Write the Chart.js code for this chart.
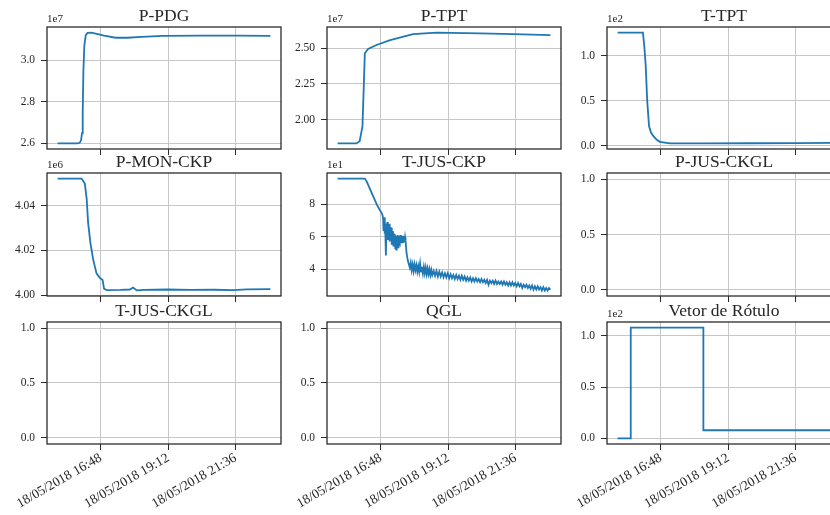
<!DOCTYPE html>
<html>
<head>
<meta charset="utf-8">
<script src="https://cdn.jsdelivr.net/npm/chart.js@4.4.1/dist/chart.umd.min.js"></script>
<style>
html, body { margin: 0; padding: 0; background: #fff; width: 830px; height: 515px; overflow: hidden; }
canvas { position: absolute; }
</style>
</head>
<body>
<script>
// time axis in minutes after midnight, 18/05/2018
const xTicks = [1008, 1152, 1296]

const ppdgTime = [916, 958, 963, 966, 968, 969.5, 971, 973, 976, 980, 987, 995, 1015, 1040, 1065, 1095, 1140, 1220, 1300, 1370]
const ppdgValues = [2.600e7, 2.600e7, 2.603e7, 2.615e7, 2.65e7, 2.75e7, 2.95e7, 3.07e7, 3.12e7, 3.13e7, 3.132e7, 3.128e7, 3.117e7, 3.107e7, 3.107e7, 3.111e7, 3.116e7, 3.117e7, 3.117e7, 3.116e7]
const ppdgTicks = [2.6e7, 2.8e7, 3.0e7]

const tptTime = [916, 956, 963, 969, 972, 974, 981, 999, 1028, 1077, 1127, 1220, 1291, 1370]
const tptValues = [1.833e7, 1.833e7, 1.849e7, 1.953e7, 2.255e7, 2.465e7, 2.495e7, 2.523e7, 2.557e7, 2.599e7, 2.610e7, 2.604e7, 2.599e7, 2.592e7]
const tptTicks = [2.0e7, 2.25e7, 2.5e7]

const ttptTime = [916, 970, 973, 976, 979, 983, 987, 992, 999, 1006, 1028, 1100, 1200, 1300, 1370]
const ttptValues = [125.7, 125.7, 110, 88, 51, 22, 15, 11, 7, 4.4, 2.6, 2.6, 2.8, 3.0, 3.2]
const ttptTicks = [0, 50, 100]

const pmonTime = [916, 967, 974, 978, 981, 986, 992, 999, 1006, 1012, 1015, 1021, 1050, 1070, 1077, 1085, 1100, 1150, 1200, 1250, 1290, 1320, 1370]
const pmonValues = [4.052e6, 4.052e6, 4.0498e6, 4.0430e6, 4.0324e6, 4.0233e6, 4.0158e6, 4.0098e6, 4.0078e6, 4.0068e6, 4.0030e6, 4.0023e6, 4.0024e6, 4.0026e6, 4.0035e6, 4.0022e6, 4.0024e6, 4.0026e6, 4.0024e6, 4.0025e6, 4.0023e6, 4.0027e6, 4.0028e6]
const pmonTicks = [4.00e6, 4.02e6, 4.04e6]

const tjusTime = [916, 974, 978, 990, 1000, 1006, 1010, 1012,
    1013, 1014, 1015, 1016, 1017, 1018, 1019, 1020, 1021, 1022, 1023, 1024, 1025, 1026, 1027, 1028,
    1029, 1030, 1031, 1032, 1033, 1034, 1035, 1036, 1037, 1038, 1039, 1040, 1041, 1042, 1043, 1044,
    1045, 1046, 1047, 1048, 1049, 1050, 1051, 1052, 1053, 1054, 1055, 1056, 1057, 1058, 1059, 1060,
    1061, 1063, 1066, 1068, 1070, 1072, 1074, 1076, 1078, 1080, 1082, 1084,
    1086, 1088, 1090, 1092, 1094, 1096, 1098, 1100, 1102, 1104, 1106, 1108, 1110, 1112, 1114, 1116,
    1118, 1121, 1124, 1127, 1130, 1133, 1136, 1139, 1142, 1145, 1148, 1151, 1154, 1157, 1160, 1163,
    1166, 1169, 1172, 1175, 1178, 1181, 1184, 1187, 1190, 1193, 1196, 1199, 1202, 1205, 1208, 1211,
    1214, 1217, 1220, 1223, 1226, 1229, 1232, 1235, 1238, 1241, 1244, 1247, 1250, 1253, 1256, 1259,
    1262, 1265, 1268, 1271, 1274, 1277, 1280, 1283, 1286, 1289, 1292, 1295, 1298, 1301, 1304, 1307,
    1310, 1313, 1316, 1319, 1322, 1325, 1328, 1331, 1334, 1337, 1340, 1343, 1346, 1349, 1352, 1355,
    1358, 1361, 1364, 1367, 1370]
const tjusValues = [95.7, 95.7, 94.0, 86.0, 79.5, 76.3, 74.5, 73.0,
    71.0, 63.5, 72.0, 62.0, 70.0, 60.5, 48.5, 68.0, 59.0, 69.0, 58.0, 67.0, 59.5, 68.0, 57.0, 66.0,
    58.5, 65.5, 55.0, 64.0, 56.5, 63.5, 54.5, 62.0, 55.5, 61.5, 53.0, 60.5, 52.0, 60.0, 54.0, 61.0,
    53.5, 60.5, 55.5, 60.0, 55.0, 61.0, 56.0, 60.0, 56.5, 60.5, 56.0, 59.5, 57.0, 60.5, 56.5, 59.5,
    57.5, 50.0, 45.0, 43.0, 41.0, 44.0, 39.5, 43.0, 39.0, 43.0, 39.5, 42.5,
    38.5, 42.0, 38.5, 43.5, 38.5, 41.5, 37.5, 41.5, 37.5, 41.0, 37.0, 40.5, 37.0, 40.0, 36.5, 39.5,
    36.5, 39.0, 36.0, 39.0, 35.5, 38.5, 35.5, 38.0, 35.0, 37.5, 35.0, 37.5, 34.5, 37.0, 34.5, 36.5,
    34.0, 36.5, 34.0, 36.0, 33.5, 36.0, 33.5, 35.5, 33.0, 35.0, 33.0, 35.0, 32.5, 34.5, 32.5, 34.5,
    32.5, 34.0, 32.0, 34.0, 32.0, 33.5, 31.5, 33.5, 30.5, 33.0, 31.5, 33.0, 31.0, 33.0, 31.0, 32.5,
    31.0, 32.5, 30.5, 32.5, 30.5, 32.0, 30.0, 32.0, 30.0, 32.0, 30.0, 31.5, 29.5, 31.5, 29.5, 31.0,
    28.5, 30.5, 29.0, 30.5, 28.5, 30.0, 28.0, 30.0, 27.5, 29.5, 27.5, 29.5, 27.5, 29.0, 27.0, 29.0,
    27.0, 28.5, 27.0, 28.5, 27.5]
const tjusTicks = [40, 60, 80]

const vetorTime = [916, 944, 944, 1099, 1099, 1370]
const vetorValues = [0, 0, 108, 108, 8, 8]
const vetorTicks = [0, 50, 100]

const emptyTicks = [0, 0.5, 1.0]

const FONT = '"Liberation Serif", "DejaVu Serif", serif'
const TXT = '#262626'
const BLUE = '#1f77b4'
const GRID = '#c6c6c6'

const colLeft = [47, 327, 607]
const rowTop = [27, 173, 322]
const rowH = [122, 123, 122]
const plotW = 234
const yW = 46

// 5% margins like matplotlib
function padRange(arr) {
    const lo = Math.min(...arr), hi = Math.max(...arr)
    const m = (hi - lo) * 0.05
    return [lo - m, hi + m]
}
const xRange = padRange(ppdgTime)

function hhmm(m) {
    const h = Math.floor(m / 60), mm = m % 60
    return '18/05/2018 ' + h + ':' + String(mm).padStart(2, '0')
}

const framePlugin = {
    id: 'frame',
    afterDraw(chart, args, opts) {
        const {ctx, chartArea: a} = chart
        ctx.save()
        ctx.strokeStyle = '#2b2b2b'
        ctx.lineWidth = 1.3
        ctx.strokeRect(a.left, a.top, a.right - a.left, a.bottom - a.top)
        if (opts.offset) {
            ctx.fillStyle = TXT
            ctx.font = '11px ' + FONT
            ctx.textAlign = 'left'
            ctx.textBaseline = 'bottom'
            ctx.fillText(opts.offset, a.left, a.top - 2)
        }
        ctx.restore()
    }
}

function makePlot(row, col, title, times, values, yTicks, exp, dec) {
    const cv = document.createElement('canvas')
    const bottomH = row === 2 ? 75 : 8
    const w = yW + plotW + 4
    const h = 24 + rowH[row] + bottomH
    cv.width = w
    cv.height = h
    cv.style.left = (colLeft[col] - yW) + 'px'
    cv.style.top = (rowTop[row] - 24) + 'px'
    document.body.appendChild(cv)

    const yRange = values ? padRange(values) : [-0.055, 1.055]
    const datasets = values ? [{
        data: times.map((t, i) => ({x: t, y: values[i]})),
        borderColor: BLUE,
        borderWidth: 1.8,
        pointRadius: 0,
        tension: 0,
        fill: false,
    }] : []

    new Chart(cv, {
        type: 'line',
        data: {datasets},
        plugins: [framePlugin],
        options: {
            responsive: false,
            animation: false,
            layout: {padding: {left: 0, top: 0, right: 4, bottom: 0}},
            plugins: {
                legend: {display: false},
                tooltip: {enabled: false},
                title: {
                    display: true,
                    text: title,
                    fullSize: false,
                    color: TXT,
                    font: {family: FONT, size: 17.5, weight: 'normal', lineHeight: '16px'},
                    padding: {top: 5, bottom: 3},
                },
                frame: {offset: exp ? '1e' + exp : null},
            },
            scales: {
                x: {
                    type: 'linear',
                    min: xRange[0],
                    max: xRange[1],
                    afterBuildTicks: s => { s.ticks = xTicks.map(v => ({value: v})) },
                    afterFit: s => { s.height = bottomH; s.paddingLeft = 0; s.paddingRight = 0 },
                    border: {display: false},
                    grid: {color: GRID, lineWidth: 1, tickColor: '#2b2b2b', tickLength: 6},
                    ticks: {
                        display: row === 2,
                        autoSkip: false,
                        maxRotation: 30,
                        minRotation: 30,
                        padding: 0,
                        color: TXT,
                        font: {family: FONT, size: 13.5},
                        callback: v => hhmm(v),
                    },
                },
                y: {
                    type: 'linear',
                    min: yRange[0],
                    max: yRange[1],
                    afterBuildTicks: s => { s.ticks = yTicks.map(v => ({value: v})) },
                    afterFit: s => { s.width = yW; s.paddingTop = 0; s.paddingBottom = 0 },
                    border: {display: false},
                    grid: {color: GRID, lineWidth: 1, tickColor: '#2b2b2b', tickLength: 6},
                    ticks: {
                        padding: 6,
                        color: TXT,
                        font: {family: FONT, size: 11.5},
                        callback: v => (v / Math.pow(10, exp || 0)).toFixed(dec),
                    },
                },
            },
        },
    })
}

makePlot(0, 0, 'P-PDG', ppdgTime, ppdgValues, ppdgTicks, 7, 1)
makePlot(0, 1, 'P-TPT', tptTime, tptValues, tptTicks, 7, 2)
makePlot(0, 2, 'T-TPT', ttptTime, ttptValues, ttptTicks, 2, 1)
makePlot(1, 0, 'P-MON-CKP', pmonTime, pmonValues, pmonTicks, 6, 2)
makePlot(1, 1, 'T-JUS-CKP', tjusTime, tjusValues, tjusTicks, 1, 0)
makePlot(1, 2, 'P-JUS-CKGL', null, null, emptyTicks, 0, 1)
makePlot(2, 0, 'T-JUS-CKGL', null, null, emptyTicks, 0, 1)
makePlot(2, 1, 'QGL', null, null, emptyTicks, 0, 1)
makePlot(2, 2, 'Vetor de Rótulo', vetorTime, vetorValues, vetorTicks, 2, 1)
</script>
</body>
</html>
